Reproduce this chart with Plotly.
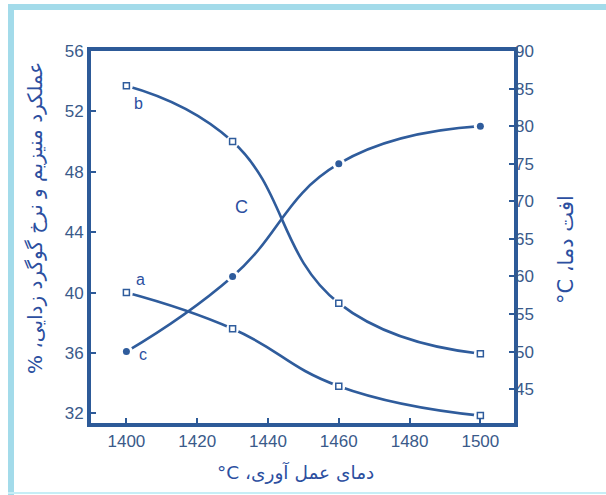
import plotly.graph_objects as go

temps = [1400, 1430, 1460, 1500]
curve_a = [40.0, 37.6, 33.8, 31.85]   # left axis, %
curve_b = [53.7, 50.0, 39.3, 35.95]   # left axis, %
curve_c = [50.0, 60.0, 75.0, 80.0]    # right axis, °C

x_ticks = [1400, 1420, 1440, 1460, 1480, 1500]
y_left_ticks = [32, 36, 40, 44, 48, 52, 56]
y_right_ticks = [40, 45, 50, 55, 60, 65, 70, 75, 80, 85, 90]

LINE = "#2f5c9c"
AXIS = "#2d5a98"
TICKTXT = "#3a5a8a"
TITLE = "#2c4fa0"
FRAME = "#a3dbea"

RLE, LRE, PDF = "\u202B", "\u202A", "\u202C"
DEGC = LRE + "°C" + PDF

fig = go.Figure()

for y, ax in [(curve_a, "y"), (curve_b, "y"), (curve_c, "y2")]:
    fig.add_trace(go.Scatter(x=temps, y=y, yaxis=ax, mode="lines",
                             line=dict(color=LINE, width=2.6, shape="spline", smoothing=1.3),
                             hoverinfo="skip", showlegend=False))

# white halos (gaps in the line around markers)
for y, ax in [(curve_a, "y"), (curve_b, "y"), (curve_c, "y2")]:
    fig.add_trace(go.Scatter(x=temps, y=y, yaxis=ax, mode="markers",
                             marker=dict(color="white", size=13, line=dict(width=0)),
                             hoverinfo="skip", showlegend=False))

for y in [curve_a, curve_b]:
    fig.add_trace(go.Scatter(x=temps, y=y, yaxis="y", mode="markers",
                             marker=dict(symbol="square", color="white", size=6,
                                         line=dict(color=LINE, width=1.5)),
                             showlegend=False))
fig.add_trace(go.Scatter(x=temps, y=curve_c, yaxis="y2", mode="markers",
                         marker=dict(symbol="circle", color=LINE, size=7),
                         showlegend=False))

tickfont = dict(family="Liberation Sans, Arial", size=17, color=TICKTXT)

fig.update_layout(
    width=606, height=495,
    margin=dict(l=91, r=92, t=51, b=72),
    paper_bgcolor="white", plot_bgcolor="white",
    xaxis=dict(range=[1390, 1509.5], tickvals=x_ticks, ticks="inside", ticklen=5,
               tickcolor=AXIS, tickwidth=1.5, showline=True, linecolor=AXIS, linewidth=4,
               mirror=True, showgrid=False, zeroline=False, tickfont=tickfont),
    yaxis=dict(range=[31.36, 56], tickvals=y_left_ticks, ticks="inside", ticklen=5,
               tickcolor=AXIS, tickwidth=1.5, showline=True, linecolor=AXIS, linewidth=4,
               mirror=True, showgrid=False, zeroline=False, tickfont=tickfont),
    yaxis2=dict(range=[40.5, 90], tickvals=y_right_ticks, ticks="inside", ticklen=5,
                tickcolor=AXIS, tickwidth=1.5, overlaying="y", side="right",
                showline=False, showgrid=False, zeroline=False, tickfont=tickfont),
)

ann_font = dict(family="Liberation Sans, Arial", size=16, color=TITLE)
labels = [("b", 1403.3, 52.54), ("a", 1404.0, 40.88), ("c", 1404.6, 35.87)]
for t, x, y in labels:
    fig.add_annotation(text=t, x=x, y=y, xref="x", yref="y", showarrow=False, font=ann_font)
fig.add_annotation(text="C", x=1432.5, y=45.69, xref="x", yref="y", showarrow=False,
                   font=dict(family="Liberation Sans, Arial", size=18, color=TITLE))


def px_x(p):
    return (p - 91) / 423


def px_y(p):
    return (423 - p) / 372


# axis titles
fig.add_annotation(text=RLE + "عملکرد منیزیم و نرخ گوگرد زدایی، %" + PDF, textangle=-90,
                   xref="paper", yref="paper", x=px_x(35), y=px_y(218),
                   xanchor="center", yanchor="middle",
                   showarrow=False, font=dict(family="DejaVu Sans", size=20, color=TITLE))
fig.add_annotation(text=RLE + "افت دما، " + DEGC + PDF, textangle=-90,
                   xref="paper", yref="paper", x=px_x(566), y=px_y(250),
                   xanchor="center", yanchor="middle",
                   showarrow=False, font=dict(family="DejaVu Sans", size=21, color=TITLE))
fig.add_annotation(text=RLE + "دمای عمل آوری، " + DEGC + PDF,
                   xref="paper", yref="paper", x=px_x(295), y=px_y(473),
                   xanchor="center", yanchor="middle",
                   showarrow=False, font=dict(family="DejaVu Sans", size=18.5, color=TITLE))

# light blue frame
fig.add_shape(type="rect", xref="paper", yref="paper", x0=px_x(8), x1=px_x(14),
              y0=px_y(495), y1=px_y(4), fillcolor=FRAME, line=dict(width=0), layer="below")
fig.add_shape(type="rect", xref="paper", yref="paper", x0=px_x(8), x1=px_x(606),
              y0=px_y(10), y1=px_y(4), fillcolor=FRAME, line=dict(width=0), layer="below")
fig.add_shape(type="rect", xref="paper", yref="paper", x0=px_x(8), x1=px_x(606),
              y0=px_y(494), y1=px_y(492), fillcolor="#c6eef6", line=dict(width=0), layer="below")

fig.write_html("out.html", config={"displayModeBar": False},
               post_script="document.body.style.margin='0px';")
